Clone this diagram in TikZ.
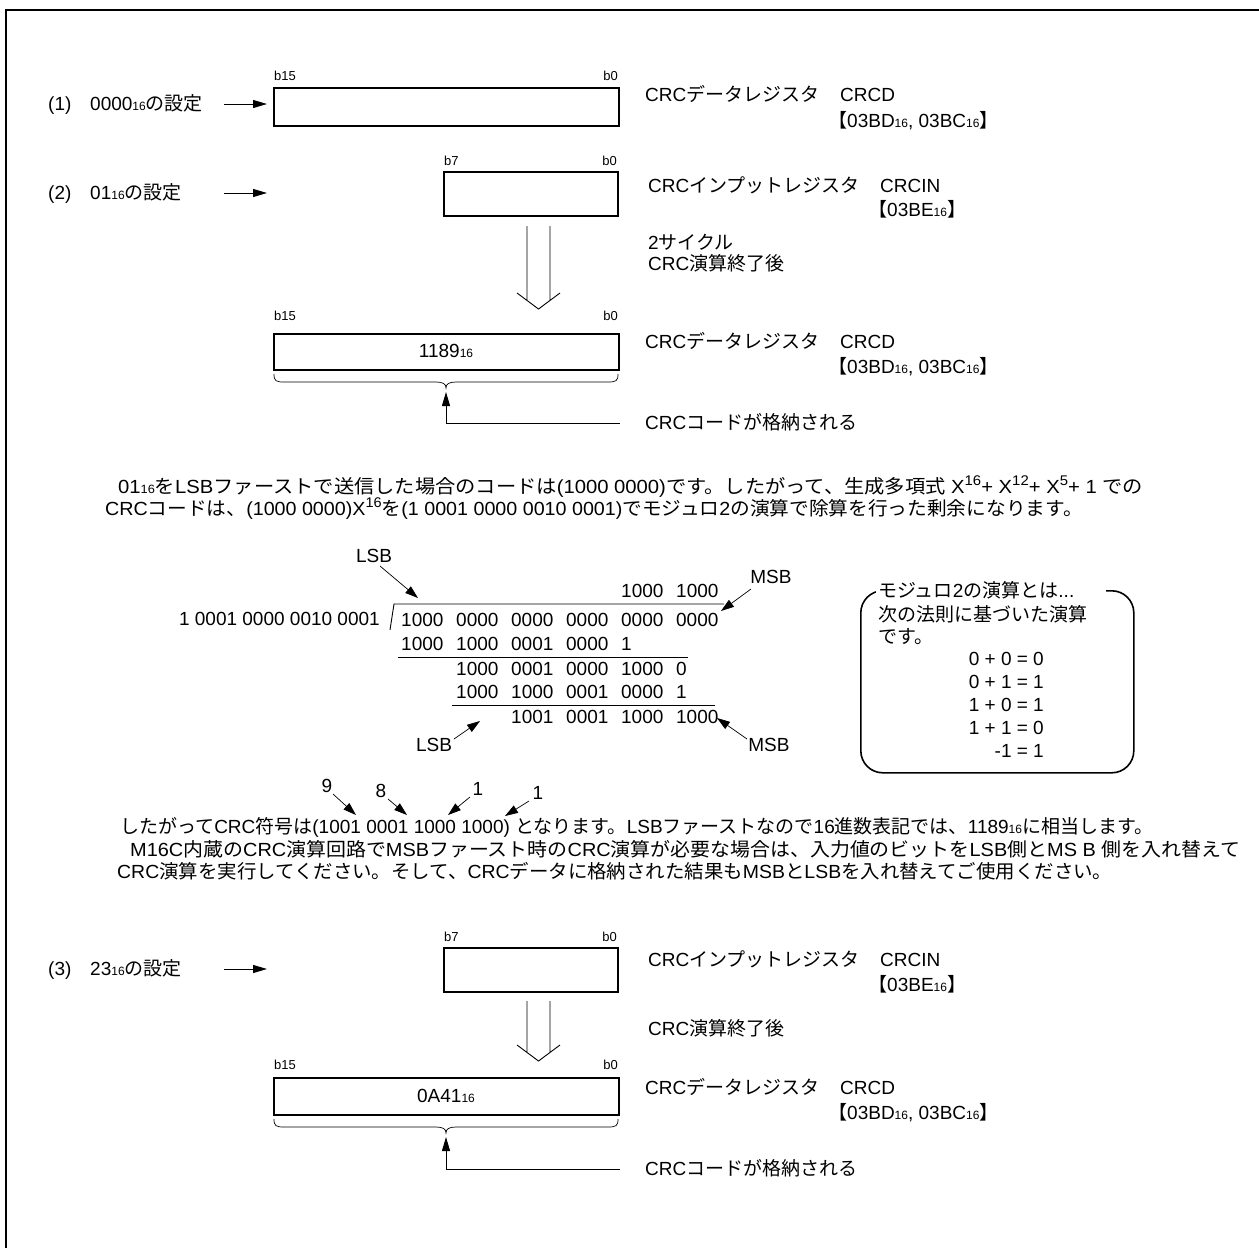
\documentclass[tikz,border=0pt]{standalone}
\usepackage{fontspec}
\setmainfont{Liberation Sans}
\newfontfamily\cjk{Noto Sans CJK JP}
\usetikzlibrary{arrows.meta,calc}
\newcommand\J[1]{{\cjk #1}}
\newcommand\hx[1]{{\fontsize{12}{12}\selectfont #1}}
\newcommand\sups[1]{\raisebox{0.85ex}{\fontsize{14}{14}\selectfont #1}}
\newcommand\grp[1]{\makebox[55pt][l]{#1}}
\begin{document}
\begin{tikzpicture}[x=1pt,y=-1pt,
 txt/.style={inner sep=0pt, font=\fontsize{19}{23}\selectfont, text height=13.5pt, text depth=0pt},
 lbl/.style={inner sep=0pt, font=\fontsize{13}{15}\selectfont, text height=9.5pt, text depth=0pt},
 reg/.style={draw, line width=1.8pt, inner sep=0pt},
 fa/.style={line width=1pt, -{Triangle[length=14pt,width=8pt]}},
 fb/.style={line width=0.7pt, -{Triangle[length=13pt,width=8.5pt]}},
 thinl/.style={line width=0.9pt},
 bracel/.style={line width=0.7pt}]
\useasboundingbox (0,0) rectangle (1259,1248);
\draw[line width=2.5pt] (6,1252) -- (6,10) -- (1263,10);

% ---------- (1)
\node[txt, anchor=west] (n1) at (48,104) {(1)};
\node[txt, anchor=west] (s1) at (90,104) {0000\hx{16}\J{の設定}};
\coordinate (a1s) at (224,104); \coordinate (a1e) at (267,104);
\draw[fa] (a1s) -- (a1e);
\node[reg, anchor=north west, minimum width=345pt, minimum height=38pt] (R1) at (273,87) {};
\node[lbl, anchor=west] (R1h) at (274,76) {b15};
\node[lbl, anchor=east] (R1l) at (618,76) {b0};
\node[txt, anchor=west] (D1) at (645,95) {CRC\J{データレジスタ}};
\node[txt, anchor=west] (D1n) at (840,95) {CRCD};
\node[txt, anchor=west] (D1a) at (828,121) {\J{【}03BD\hx{16}, 03BC\hx{16}\J{】}};

% ---------- (2)
\node[txt, anchor=west] (n2) at (48,193) {(2)};
\node[txt, anchor=west] (s2) at (90,193) {01\hx{16}\J{の設定}};
\coordinate (a2s) at (224,193); \coordinate (a2e) at (267,193);
\draw[fa] (a2s) -- (a2e);
\node[reg, anchor=north west, minimum width=174pt, minimum height=44pt] (I2) at (443,171) {};
\node[lbl, anchor=west] (I2h) at (444,161) {b7};
\node[lbl, anchor=east] (I2l) at (617,161) {b0};
\node[txt, anchor=west] (C2) at (648,186) {CRC\J{インプットレジスタ}};
\node[txt, anchor=west] (C2n) at (880,186) {CRCIN};
\node[txt, anchor=west] (C2a) at (868,210) {\J{【}03BE\hx{16}\J{】}};
\draw[thinl] (527,226) -- (527,300.4) (550,226) -- (550,300.4)
   (517,293) -- (538.5,309) -- (560,293);
\node[txt, anchor=west] (k2a) at (648,243) {2\J{サイクル}};
\node[txt, anchor=west] (k2b) at (648,264) {CRC\J{演算終了後}};
\node[reg, anchor=north west, minimum width=345pt, minimum height=36pt] (R2) at (273,333) {};
\node[txt] (v2) at (446,351) {1189\hx{16}};
\node[lbl, anchor=west] (R2h) at (274,316) {b15};
\node[lbl, anchor=east] (R2l) at (618,316) {b0};
\node[txt, anchor=west] (D2) at (645,342) {CRC\J{データレジスタ}};
\node[txt, anchor=west] (D2n) at (840,342) {CRCD};
\node[txt, anchor=west] (D2a) at (828,367) {\J{【}03BD\hx{16}, 03BC\hx{16}\J{】}};
\begin{scope}[shift={(0,374)}]
\draw[bracel] (274,0) .. controls (274,7) and (276,8) .. (284,8) -- (436,8)
  .. controls (443,8) and (446,10) .. (446,14) .. controls (446,10) and (449,8) .. (456,8)
  -- (608,8) .. controls (616,8) and (618,7) .. (618,0);
\end{scope}
\coordinate (b2) at (446,392);
\node[txt, anchor=west] (K2) at (645,423) {CRC\J{コードが格納される}};
\draw[fa] ([xshift=-25pt]K2.west) -| (b2);

% ---------- paragraph 1
\node[txt, anchor=west] (p1) at (118,487) {\scalebox{1.066}[1]{01\hx{16}\J{を}LSB\J{ファーストで送信した場合のコードは}(1000 0000)\J{です。したがって、生成多項式} X\sups{16}+ X\sups{12}+ X\sups{5}+ 1 \J{での}}};
\node[txt, anchor=west] (p2) at (105,509) {\scalebox{1.036}[1]{CRC\J{コードは、}(1000 0000)X\sups{16}\J{を}(1 0001 0000 0010 0001)\J{でモジュロ}2\J{の演算で除算を行った剰余になります。}}};

% ---------- division
\node[txt] (lsb1) at (374,556) {LSB};
\node[txt] (msb1) at (771,577) {MSB};
\node[txt, anchor=west] (q) at (621,591) {\grp{1000}1000};
\node[txt, anchor=east] (dv) at (380,619) {1 0001 0000 0010 0001};
\node[txt, anchor=west] (d0) at (401,620) {\grp{1000}\grp{0000}\grp{0000}\grp{0000}\grp{0000}0000};
\node[txt, anchor=west] (d1) at (401,644) {\grp{1000}\grp{1000}\grp{0001}\grp{0000}1};
\node[txt, anchor=west] (d2) at (456,669) {\grp{1000}\grp{0001}\grp{0000}\grp{1000}0};
\node[txt, anchor=west] (d3) at (456,692) {\grp{1000}\grp{1000}\grp{0001}\grp{0000}1};
\node[txt, anchor=west] (d4) at (511,717) {\grp{1001}\grp{0001}\grp{1000}1000};
\node[txt] (lsb2) at (434,745) {LSB};
\node[txt] (msb2) at (769,745) {MSB};
\draw[thinl] (390,630) -- (394,604) -- (724,604);
\draw[thinl] (398,657) -- (688,657);
\draw[thinl] (452,705) -- (715,705);
\draw[fb] ([shift={(6,10)}]lsb1.center) -- (418,598);
\draw[fb] ([shift={(-20,12)}]msb1.center) -- (721,611);
\draw[fb] ([shift={(20,-6)}]lsb2.center) -- (480,721);
\draw[fb] ([shift={(-22,-6)}]msb2.center) -- (717,718);

% ---------- modulo box
\node[draw, line width=1.6pt, rounded corners=22pt, anchor=north west, minimum width=273pt, minimum height=182pt] (mod) at (860,590) {};
\node[txt, anchor=west, fill=white, inner xsep=2pt] (mt) at (876,591) {\J{モジュロ}2\J{の演算とは}...\rule{30pt}{0pt}};
\node[txt, anchor=west] (m1) at (878,615) {\J{次の法則に基づいた演算}};
\node[txt, anchor=west] (m2) at (878,637) {\J{です。}};
\node[txt, anchor=east] (e1) at (1044,659) {0 + 0 = 0};
\node[txt, anchor=east] (e2) at (1044,682) {0 + 1 = 1};
\node[txt, anchor=east] (e3) at (1044,705) {1 + 0 = 1};
\node[txt, anchor=east] (e4) at (1044,728) {1 + 1 = 0};
\node[txt, anchor=east] (e5) at (1044,751) {-1 = 1};

% ---------- digit markers
\node[txt] (g9) at (327,786) {9};
\node[txt] (g8) at (381,791) {8};
\node[txt] (g1a) at (478,789) {1};
\node[txt] (g1b) at (538,793) {1};
\draw[fb] ([shift={(6,8)}]g9.center) -- (356,815);
\draw[fb] ([shift={(7,8)}]g8.center) -- (407,815);
\draw[fb] ([shift={(-8,8)}]g1a.center) -- (448,815);
\draw[fb] ([shift={(-9,8)}]g1b.center) -- (505,816);

% ---------- paragraph 2
\node[txt, anchor=west] (p3) at (120,827) {\J{したがって}CRC\J{符号は}(1001 0001 1000 1000) \J{となります。}LSB\J{ファーストなので}16\J{進数表記では、}1189\hx{16}\J{に相当します。}};
\node[txt, anchor=west] (p4) at (130,850) {\scalebox{1.049}[1]{M16C\J{内蔵の}CRC\J{演算回路で}MSB\J{ファースト時の}CRC\J{演算が必要な場合は、入力値のビットを}LSB\J{側と}MS B \J{側を入れ替えて}}};
\node[txt, anchor=west] (p5) at (117,872) {\scalebox{1.023}[1]{CRC\J{演算を実行してください。そして、}CRC\J{データに格納された結果も}MSB\J{と}LSB\J{を入れ替えてご使用ください。}}};

% ---------- (3)
\node[txt, anchor=west] (n3) at (48,969) {(3)};
\node[txt, anchor=west] (s3) at (90,969) {23\hx{16}\J{の設定}};
\coordinate (a3s) at (224,969); \coordinate (a3e) at (267,969);
\draw[fa] (a3s) -- (a3e);
\node[reg, anchor=north west, minimum width=174pt, minimum height=44pt] (I3) at (443,947) {};
\node[lbl, anchor=west] (I3h) at (444,937) {b7};
\node[lbl, anchor=east] (I3l) at (617,937) {b0};
\node[txt, anchor=west] (C3) at (648,960) {CRC\J{インプットレジスタ}};
\node[txt, anchor=west] (C3n) at (880,960) {CRCIN};
\node[txt, anchor=west] (C3a) at (868,985) {\J{【}03BE\hx{16}\J{】}};
\draw[thinl] (527,1001) -- (527,1052.4) (550,1001) -- (550,1052.4)
   (517,1045) -- (538.5,1061) -- (560,1045);
\node[txt, anchor=west] (k3) at (648,1029) {CRC\J{演算終了後}};
\node[reg, anchor=north west, minimum width=345pt, minimum height=37pt] (R3) at (273,1077) {};
\node[txt] (v3) at (446,1096) {0A41\hx{16}};
\node[lbl, anchor=west] (R3h) at (274,1065) {b15};
\node[lbl, anchor=east] (R3l) at (618,1065) {b0};
\node[txt, anchor=west] (D3) at (645,1088) {CRC\J{データレジスタ}};
\node[txt, anchor=west] (D3n) at (840,1088) {CRCD};
\node[txt, anchor=west] (D3a) at (828,1113) {\J{【}03BD\hx{16}, 03BC\hx{16}\J{】}};
\begin{scope}[shift={(0,1119)}]
\draw[bracel] (274,0) .. controls (274,7) and (276,8) .. (284,8) -- (436,8)
  .. controls (443,8) and (446,10) .. (446,14) .. controls (446,10) and (449,8) .. (456,8)
  -- (608,8) .. controls (616,8) and (618,7) .. (618,0);
\end{scope}
\coordinate (b3) at (446,1137);
\node[txt, anchor=west] (K3) at (645,1169) {CRC\J{コードが格納される}};
\draw[fa] ([xshift=-25pt]K3.west) -| (b3);
\end{tikzpicture}
\end{document}
